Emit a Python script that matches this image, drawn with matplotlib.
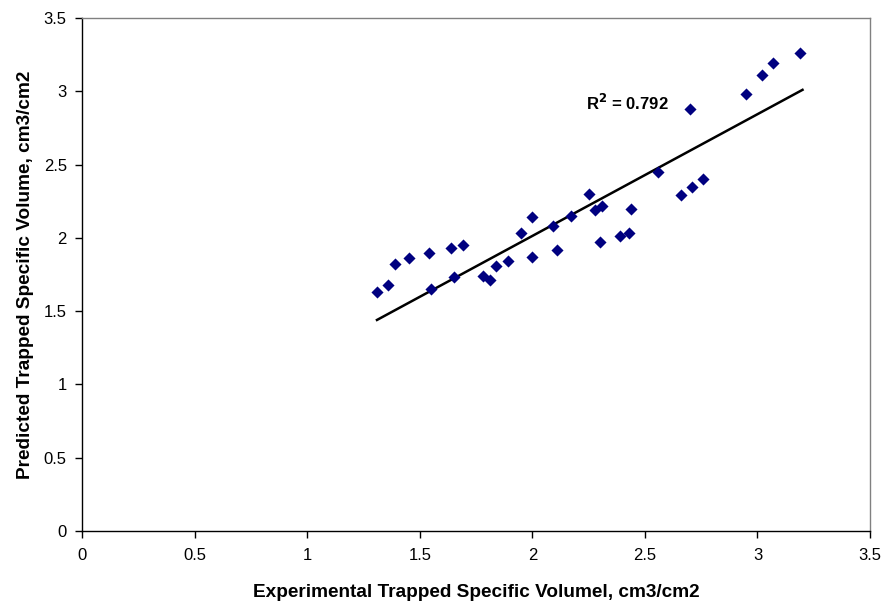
import numpy as np
import matplotlib
matplotlib.use('Agg')
import matplotlib.pyplot as plt

plt.rcParams['font.family'] = ['Liberation Sans', 'DejaVu Sans']

# ---- data ----
experimental = [1.31, 1.36, 1.39, 1.45, 1.54, 1.55, 1.64, 1.65, 1.69, 1.78,
                1.81, 1.84, 1.89, 1.95, 2.00, 2.00, 2.09, 2.11, 2.17, 2.25,
                2.28, 2.30, 2.31, 2.39, 2.43, 2.44, 2.56, 2.66, 2.70, 2.71,
                2.76, 2.95, 3.02, 3.07, 3.19]
predicted = [1.63, 1.68, 1.82, 1.86, 1.90, 1.65, 1.93, 1.73, 1.95, 1.74,
             1.71, 1.81, 1.84, 2.03, 1.87, 2.14, 2.08, 1.92, 2.15, 2.30,
             2.19, 1.97, 2.22, 2.01, 2.03, 2.20, 2.45, 2.29, 2.88, 2.35,
             2.40, 2.98, 3.11, 3.19, 3.26]
# trendline ends as drawn in the reference
trend_x = [1.31, 3.20]
trend_y = [1.44, 3.01]
r2_label = 'R$^\\mathbf{2}$ = 0.792'
ticks = [0, 0.5, 1, 1.5, 2, 2.5, 3, 3.5]
tick_labels = ['0', '0.5', '1', '1.5', '2', '2.5', '3', '3.5']

fig = plt.figure(figsize=(8.86, 6.05), dpi=100)
ax = fig.add_axes([0.0926, 0.1223, 0.8894, 0.8479])

ax.scatter(experimental, predicted, marker='D', s=38, color='#000080', linewidths=0, zorder=3)
ax.plot(trend_x, trend_y, color='black', linewidth=1.8, zorder=2)

ax.text(2.24, 2.92, r2_label, fontsize=12, fontweight='bold', va='center', ha='left')

ax.set_xlim(0, 3.5)
ax.set_ylim(0, 3.5)
ax.set_xticks(ticks)
ax.set_xticklabels(tick_labels)
ax.set_yticks(ticks)
ax.set_yticklabels(tick_labels)
ax.tick_params(axis='both', direction='out', length=5, width=1, labelsize=12)
ax.tick_params(axis='x', pad=7)
ax.tick_params(axis='y', pad=6)
ax.tick_params(top=False, right=False)

for side in ['left', 'bottom']:
    ax.spines[side].set_color('black')
    ax.spines[side].set_linewidth(1)
for side in ['top', 'right']:
    ax.spines[side].set_color('#808080')
    ax.spines[side].set_linewidth(1)

ax.set_xlabel('Experimental Trapped Specific Volumel, cm3/cm2', fontsize=13.7, fontweight='bold', labelpad=15)
ax.set_ylabel('Predicted Trapped Specific Volume, cm3/cm2', fontsize=13.7, fontweight='bold', labelpad=7)

fig.savefig('out.png', dpi=100)
